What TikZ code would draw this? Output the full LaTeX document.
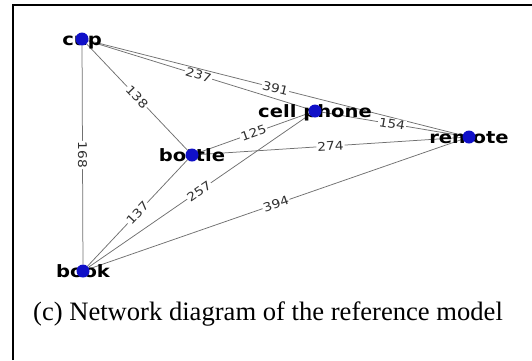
\documentclass[tikz,border=0pt]{standalone}
\usepackage{fontspec}
\setmainfont{Liberation Serif}
\newfontfamily\graphfont[FakeStretch=1.15]{DejaVu Sans}
\usetikzlibrary{backgrounds}
\definecolor{nblue}{HTML}{1010C8}
\definecolor{egrey}{HTML}{707070}
\definecolor{wtext}{HTML}{303030}
\tikzset{
  dot/.style={circle, fill=nblue, minimum size=13pt, inner sep=0pt},
  objname/.style={font=\graphfont\bfseries\fontsize{17}{17}\selectfont, inner sep=0pt, anchor=base, yshift=-6pt},
  link/.style={draw=egrey, line width=0.75pt},
  weight/.style={sloped, fill=white, inner sep=1pt, font=\graphfont\fontsize{12}{13}\selectfont, text=wtext},
  frame/.style={draw=black, line width=1.3pt},
}

\begin{document}
\begin{tikzpicture}[x=1pt, y=-1pt]
  \useasboundingbox (0,0) rectangle (532,360);
  \draw[frame] (13,360) |- (532,5);
  % object nodes
  \node[dot] (cup)    at (82,39)   {};
  \node[dot] (phone)  at (315,111) {};
  \node[dot] (remote) at (469,137) {};
  \node[dot] (bottle) at (192,155) {};
  \node[dot] (book)   at (83,271)  {};
  \begin{scope}[on background layer]
    % weighted links
    \foreach \a/\b/\w in {cup/book/168, cup/bottle/138, cup/phone/237, cup/remote/391,
        phone/remote/154, bottle/phone/125, bottle/remote/274, book/bottle/137,
        book/phone/257, book/remote/394}
      \draw[link] (\a) -- node[weight] {\w} (\b);
    % names sit under the dots
    \foreach \n/\t in {cup/cup, phone/cell phone, remote/remote, bottle/bottle, book/book}
      \node[objname] at (\n) {\t};
  \end{scope}
  \node[font=\fontsize{26.6}{28}\selectfont, anchor=base] (cap) at (268,320)
    {(c) Network diagram of the reference model};
\end{tikzpicture}
\end{document}
